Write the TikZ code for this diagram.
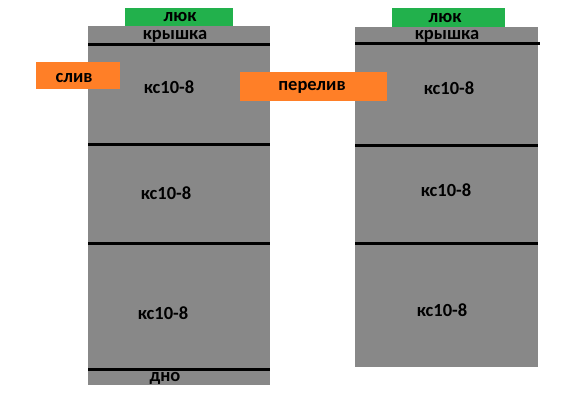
\documentclass[tikz,border=0pt]{standalone}
\usepackage{fontspec}
\setmainfont{Carlito}
\definecolor{wellgray}{HTML}{888888}
\definecolor{hatchgreen}{HTML}{22B14C}
\definecolor{pipeorange}{HTML}{FF7F27}
\begin{document}
\begin{tikzpicture}[x=1pt,y=-1pt,
  lbl/.style={font=\bfseries\fontsize{18.5}{18.5}\selectfont, text=black, inner sep=0pt, anchor=base},
  well/.style={fill=wellgray, draw=none},
  divider/.style={line width=3pt, black},
  hatch/.style={fill=hatchgreen, draw=none},
  pipe/.style={fill=pipeorange, draw=none}]
\useasboundingbox (0,0) rectangle (574,400);
% left well
\fill[well] (88,26) rectangle (270,385);
\fill[hatch] (125,8) rectangle (233,26);
\draw[divider] (88,44) -- (270,44);
\draw[divider] (88,144) -- (270,144);
\draw[divider] (88,243) -- (270,243);
\draw[divider] (88,369) -- (270,369);
% right well
\fill[well] (355,27) rectangle (538,367);
\fill[hatch] (392,8) rectangle (505,27);
\draw[divider] (355,43) -- (540,43);
\draw[divider] (355,145) -- (538,145);
\draw[divider] (355,243) -- (538,243);
% pipes
\fill[pipe] (36,62) rectangle (120,89);
\fill[pipe] (240,72) rectangle (387,101);
% labels
\node[lbl] (l1) at (180,21) {люк};
\node[lbl] (l2) at (175,39) {крышка};
\node[lbl] (l3) at (169,93) {кс10-8};
\node[lbl] (l4) at (166,199) {кс10-8};
\node[lbl] (l5) at (163,319) {кс10-8};
\node[lbl] (l6) at (165,381) {дно};
\node[lbl] (r1) at (445,22) {люк};
\node[lbl] (r2) at (447,39) {крышка};
\node[lbl] (r3) at (449,94) {кс10-8};
\node[lbl] (r4) at (446,196) {кс10-8};
\node[lbl] (r5) at (442,316) {кс10-8};
\node[lbl] (p1) at (74,82) {слив};
\node[lbl] (p2) at (312,90) {перелив};
\end{tikzpicture}
\end{document}
